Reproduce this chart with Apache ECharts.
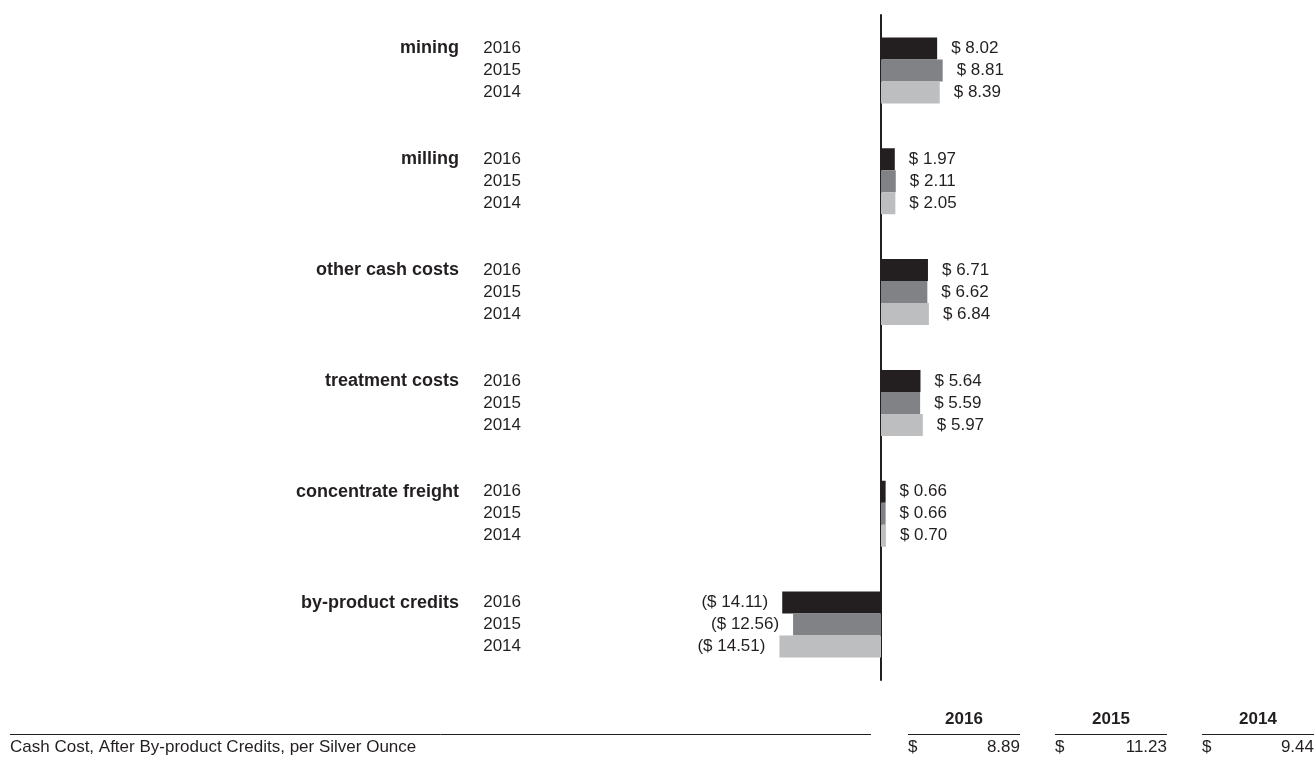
<!DOCTYPE html>
<html><head><meta charset="utf-8">
<script src="https://cdn.jsdelivr.net/npm/echarts@6/dist/echarts.min.js"></script>
<style>html,body{margin:0;padding:0;background:#fff}#c{width:1315px;height:760px}</style>
</head><body><div id="c"></div>
<script>
const categories = ['mining', 'milling', 'other cash costs', 'treatment costs', 'concentrate freight', 'by-product credits'];
const years = ['2016', '2015', '2014'];
const v2016 = [8.02, 1.97, 6.71, 5.64, 0.66, -14.11];
const v2015 = [8.81, 2.11, 6.62, 5.59, 0.66, -12.56];
const v2014 = [8.39, 2.05, 6.84, 5.97, 0.70, -14.51];
const totalLabel = 'Cash Cost, After By-product Credits, per Silver Ounce';
const totalYears = ['2016', '2015', '2014'];
const totalValues = [8.89, 11.23, 9.44];

const FONT = '"Liberation Sans", Arial, Helvetica, sans-serif';
const TXT = '#231f20';
const colors = ['#231f20', '#808285', '#bcbec0'];
const FS = 17;
const FSB = 18;

function fmt(v) { return v < 0 ? '($ ' + Math.abs(v).toFixed(2) + ')' : '$ ' + v.toFixed(2); }

const seriesValues = [v2016, v2015, v2014];
const series = years.map((y, i) => ({
  type: 'bar', name: y, barWidth: 22, barGap: '0%',
  itemStyle: { color: colors[i] },
  label: { show: true, position: 'right', distance: 14, formatter: p => fmt(p.value), color: TXT, fontSize: FS, fontFamily: FONT },
  data: seriesValues[i].map(v => v < 0 ? { value: v, label: { position: 'left' } } : v),
  animation: false
}));

const graphic = [
  { type: 'line', shape: { x1: 10, y1: 734.5, x2: 871, y2: 734.5 }, style: { stroke: TXT, lineWidth: 1 } },
  { type: 'text', x: 10, y: 747, style: { text: totalLabel, fill: TXT, font: FS + 'px ' + FONT, align: 'left', verticalAlign: 'middle' } }
];
const colLeft = [908, 1055, 1202];
const colW = 112;
totalYears.forEach((yr, i) => {
  const l = colLeft[i];
  graphic.push({ type: 'text', x: l + colW / 2, y: 719, style: { text: yr, fill: TXT, font: 'bold ' + FS + 'px ' + FONT, align: 'center', verticalAlign: 'middle' } });
  graphic.push({ type: 'line', shape: { x1: l, y1: 734.5, x2: l + colW, y2: 734.5 }, style: { stroke: TXT, lineWidth: 1 } });
  graphic.push({ type: 'text', x: l, y: 747, style: { text: '$', fill: TXT, font: FS + 'px ' + FONT, align: 'left', verticalAlign: 'middle' } });
  graphic.push({ type: 'text', x: l + colW, y: 747, style: { text: totalValues[i].toFixed(2), fill: TXT, font: FS + 'px ' + FONT, align: 'right', verticalAlign: 'middle' } });
});

const chart = echarts.init(document.getElementById('c'), null, { renderer: 'canvas' });
chart.setOption({
  animation: false,
  backgroundColor: '#fff',
  grid: { left: 769, width: 182, top: 15, height: 665, containLabel: false },
  xAxis: {
    type: 'value', min: -16, max: 10,
    axisLine: { show: false }, axisTick: { show: false }, axisLabel: { show: false }, splitLine: { show: false }
  },
  yAxis: {
    type: 'category', data: categories, inverse: true,
    axisLine: { show: true, onZero: true, lineStyle: { color: TXT, width: 2 } },
    axisTick: { show: false }, splitLine: { show: false },
    axisLabel: {
      margin: 248,
      formatter: name => `{n|${name}}{s| }{y|${years[0]}}\n{b| }{s| }{y|${years[1]}}\n{b| }{s| }{y|${years[2]}}`,
      rich: {
        n: { fontWeight: 'bold', fontSize: FSB, fontFamily: FONT, color: TXT, width: 200, align: 'right', lineHeight: 22 },
        b: { width: 200, align: 'right', lineHeight: 22, fontSize: FS },
        s: { width: 24, align: 'right', lineHeight: 22, fontSize: FS },
        y: { fontSize: FS, fontFamily: FONT, color: TXT, width: 38, align: 'right', lineHeight: 22 }
      }
    }
  },
  series: series,
  graphic: graphic
});
</script></body></html>
